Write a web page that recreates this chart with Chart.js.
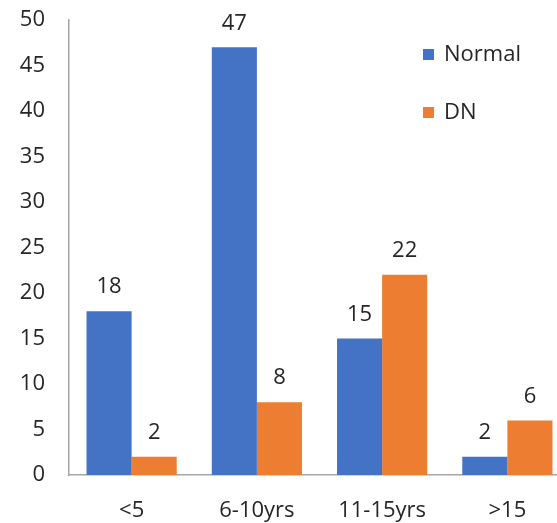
<!DOCTYPE html>
<html>
<head>
<meta charset="utf-8">
<script src="https://cdn.jsdelivr.net/npm/chart.js@4/dist/chart.umd.min.js"></script>
<style>
  html, body { margin: 0; padding: 0; background: #fff; overflow: hidden; }
  #wrap { width: 570px; height: 523px; }
</style>
</head>
<body>
<div id="wrap"><canvas id="barChart" width="570" height="523"></canvas></div>
<script>
const categories = ['<5', '6-10yrs', '11-15yrs', '>15'];
const normalValues = [18, 47, 15, 2];
const dnValues = [2, 8, 22, 6];
const yTicks = [0, 5, 10, 15, 20, 25, 30, 35, 40, 45, 50];

const textColor = '#262626';
const fontFamily = "'Open Sans', 'Noto Sans', sans-serif";

// labels above each bar
const valueLabels = {
  id: 'valueLabels',
  afterDatasetsDraw(chart) {
    const ctx = chart.ctx;
    ctx.save();
    ctx.font = '22px ' + fontFamily;
    ctx.fillStyle = textColor;
    ctx.textAlign = 'center';
    ctx.textBaseline = 'middle';
    chart.data.datasets.forEach((ds, i) => {
      chart.getDatasetMeta(i).data.forEach((bar, j) => {
        ctx.fillText(ds.data[j], bar.x, bar.y - 24);
      });
    });
    ctx.restore();
  }
};

// legend drawn inside the plot area, top right
const insideLegend = {
  id: 'insideLegend',
  afterDraw(chart) {
    const ctx = chart.ctx;
    ctx.save();
    ctx.font = '22px ' + fontFamily;
    ctx.textBaseline = 'middle';
    chart.data.datasets.forEach((ds, i) => {
      const y = 55 + i * 58;
      ctx.fillStyle = ds.backgroundColor;
      ctx.fillRect(423, y - 6, 11, 11);
      ctx.fillStyle = textColor;
      ctx.textAlign = 'left';
      ctx.fillText(ds.label, 444, y);
    });
    ctx.restore();
  }
};

new Chart(document.getElementById('barChart'), {
  type: 'bar',
  data: {
    labels: categories,
    datasets: [
      { label: 'Normal', data: normalValues, backgroundColor: '#4472C4' },
      { label: 'DN', data: dnValues, backgroundColor: '#ED7D31' }
    ]
  },
  options: {
    responsive: false,
    animation: false,
    layout: { padding: { top: 20, right: 0, left: 0, bottom: 0 } },
    plugins: { legend: { display: false }, tooltip: { enabled: false } },
    datasets: { bar: { categoryPercentage: 0.72, barPercentage: 1.0 } },
    scales: {
      x: {
        grid: { display: false },
        border: { display: true, color: '#a6a6a6', width: 1.5 },
        ticks: { color: textColor, font: { size: 22, family: fontFamily }, padding: 15 },
        afterFit(scale) { scale.height = 48; scale.paddingLeft = 0; scale.paddingRight = 0; }
      },
      y: {
        min: 0,
        max: 50,
        afterBuildTicks(scale) { scale.ticks = yTicks.map(v => ({ value: v })); },
        grid: { display: false },
        border: { display: true, color: '#a6a6a6', width: 1.5 },
        ticks: { color: textColor, font: { size: 22, family: fontFamily }, padding: 16 },
        afterFit(scale) { scale.width = 69; scale.paddingTop = 0; scale.paddingBottom = 0; }
      }
    }
  },
  plugins: [valueLabels, insideLegend]
});
</script>
</body>
</html>
